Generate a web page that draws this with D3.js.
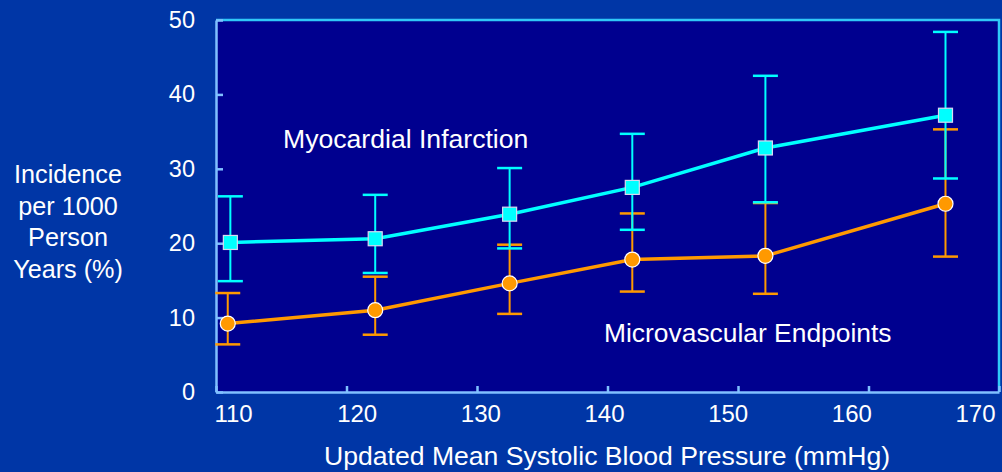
<!DOCTYPE html>
<html>
<head>
<meta charset="utf-8">
<style>
body { margin: 0; background: #0036a6; }
svg { display: block; }
.tick text { font-family: "Liberation Sans", Arial, sans-serif; fill: #fff; }
.lbl { font-family: "Liberation Sans", Arial, sans-serif; fill: #fff; }
</style>
</head>
<body>
<svg id="chart"></svg>
<script src="https://d3js.org/d3.v7.min.js"></script>
<script>

var xTicks = [110, 120, 130, 140, 150, 160, 170];
var yTicks = [0, 10, 20, 30, 40, 50];

// Myocardial Infarction
var miX = [111.1, 122.2, 132.5, 141.9, 152.1, 165.9];
var miY = [20.1, 20.6, 23.9, 27.5, 32.8, 37.2];
var miLo = [14.9, 16.0, 19.3, 21.8, 25.5, 28.7];
var miHi = [26.3, 26.5, 30.1, 34.7, 42.5, 48.4];

// Microvascular Endpoints
var mvX = [110.9, 122.2, 132.5, 141.9, 152.1, 165.9];
var mvY = [9.2, 11.0, 14.6, 17.8, 18.3, 25.3];
var mvLo = [6.4, 7.7, 10.5, 13.5, 13.2, 18.2];
var mvHi = [13.3, 15.5, 19.8, 24.0, 25.4, 35.3];

var width = 1002, height = 472
var pLeft = 216, pRight = 999, pTop = 20, pBottom = 392

var svg = d3.select("#chart")
  .attr("width", width)
  .attr("height", height)

svg.append("rect")
  .attr("width", width).attr("height", height)
  .attr("fill", "#0036a6")

var x = d3.scaleLinear().domain([110, 170]).range([pLeft, pRight])
var xLabel = d3.scaleLinear().domain([110, 170]).range([233, 975])
var y = d3.scaleLinear().domain([0, 50]).range([pBottom, pTop])

// plot area
svg.append("rect")
  .attr("x", pLeft).attr("y", pTop)
  .attr("width", pRight - pLeft).attr("height", pBottom - pTop)
  .attr("fill", "#00008f")

// top and right frame
svg.append("path")
  .attr("d", `M${pLeft},${pTop}H${pRight}V${pBottom}`)
  .attr("fill", "none")
  .attr("stroke", "#30c8f8")
  .attr("stroke-width", 2.5)

// axes
var xAxis = svg.append("g")
  .attr("transform", `translate(0,${pBottom})`)
  .call(d3.axisBottom(x).tickValues(xTicks).tickSize(-6).tickSizeOuter(0).tickFormat(""))
xAxis.selectAll("line, path").attr("stroke", "#80c0ff").attr("stroke-width", 2.5)

svg.append("g")
  .attr("transform", `translate(0,${pBottom})`)
  .call(d3.axisBottom(xLabel).tickValues(xTicks).tickSize(0).tickPadding(13))
  .call(g => g.select(".domain").remove())
  .selectAll("text").style("font-size", "24px")

var yAxis = svg.append("g")
  .attr("transform", `translate(${pLeft},0)`)
  .call(d3.axisLeft(y).tickValues(yTicks).tickSize(-7).tickSizeOuter(0).tickPadding(21))
yAxis.selectAll("line, path").attr("stroke", "#80c0ff").attr("stroke-width", 2.5)
yAxis.selectAll("text").style("font-size", "23.5px")

function drawSeries(xs, ys, lo, hi, color, shape) {
  var g = svg.append("g")
  var idx = d3.range(xs.length)
  g.selectAll(".bar").data(idx).enter().append("line")
    .attr("x1", i => x(xs[i])).attr("x2", i => x(xs[i]))
    .attr("y1", i => y(lo[i])).attr("y2", i => y(hi[i]))
    .attr("stroke", color).attr("stroke-width", 2)
  g.selectAll(".capHi").data(idx).enter().append("line")
    .attr("x1", i => x(xs[i]) - 12.5).attr("x2", i => x(xs[i]) + 12.5)
    .attr("y1", i => y(hi[i])).attr("y2", i => y(hi[i]))
    .attr("stroke", color).attr("stroke-width", 2.5)
  g.selectAll(".capLo").data(idx).enter().append("line")
    .attr("x1", i => x(xs[i]) - 12.5).attr("x2", i => x(xs[i]) + 12.5)
    .attr("y1", i => y(lo[i])).attr("y2", i => y(lo[i]))
    .attr("stroke", color).attr("stroke-width", 2.5)
  g.append("path")
    .datum(idx)
    .attr("d", d3.line().x(i => x(xs[i])).y(i => y(ys[i])))
    .attr("fill", "none").attr("stroke", color).attr("stroke-width", 3.5)
  if (shape == "square") {
    g.selectAll(".pt").data(idx).enter().append("rect")
      .attr("x", i => x(xs[i]) - 7).attr("y", i => y(ys[i]) - 7)
      .attr("width", 14).attr("height", 14)
      .attr("fill", color).attr("stroke", "#d8d8f0").attr("stroke-width", 1.2)
  } else {
    g.selectAll(".pt").data(idx).enter().append("circle")
      .attr("cx", i => x(xs[i])).attr("cy", i => y(ys[i]))
      .attr("r", 7.5)
      .attr("fill", color).attr("stroke", "#ffffff").attr("stroke-width", 1.2)
  }
}

drawSeries(mvX, mvY, mvLo, mvHi, "#ff9900", "circle")
drawSeries(miX, miY, miLo, miHi, "#00ffff", "square")

// labels
svg.append("text").attr("class", "lbl")
  .attr("x", 283).attr("y", 148)
  .style("font-size", "26.6px")
  .text("Myocardial Infarction")

svg.append("text").attr("class", "lbl")
  .attr("x", 604).attr("y", 342)
  .style("font-size", "26.4px")
  .text("Microvascular Endpoints")

svg.append("text").attr("class", "lbl")
  .attr("x", 607).attr("y", 465)
  .attr("text-anchor", "middle")
  .style("font-size", "26.6px")
  .text("Updated Mean Systolic Blood Pressure (mmHg)")

var yTitle = ["Incidence", "per 1000", "Person", "Years (%)"]
svg.append("text").attr("class", "lbl")
  .attr("text-anchor", "middle")
  .style("font-size", "25.2px")
  .selectAll("tspan").data(yTitle).enter().append("tspan")
  .attr("x", 68)
  .attr("y", (d, i) => 183 + i * 31.7)
  .text(d => d)

</script>
</body>
</html>
